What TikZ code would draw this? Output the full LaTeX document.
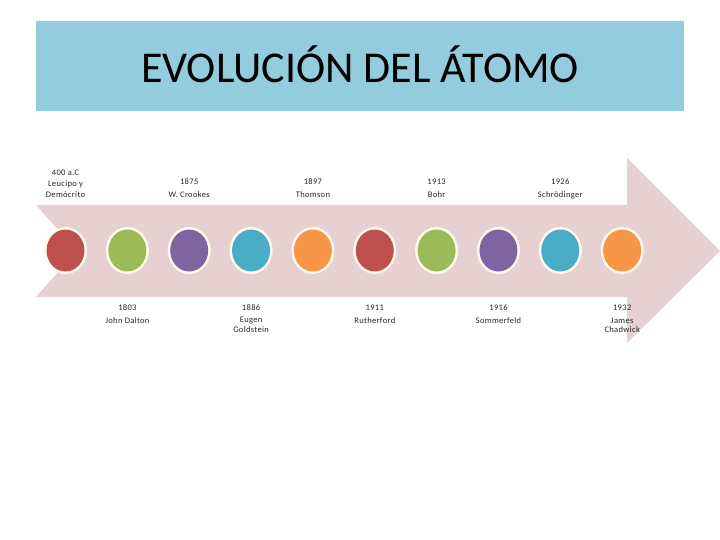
\documentclass[tikz,border=0pt]{standalone}
\usepackage{fontspec}
\setmainfont{Carlito}
\newfontfamily\smallfam[LetterSpace=4]{Carlito}
\definecolor{titlebg}{HTML}{93CDDD}
\definecolor{arrowc}{HTML}{E6D0D1}
\definecolor{ringc}{HTML}{FFFCEB}
\definecolor{cred}{HTML}{C0504D}
\definecolor{cgreen}{HTML}{9BBB59}
\definecolor{cpurple}{HTML}{8064A2}
\definecolor{cteal}{HTML}{4BACC6}
\definecolor{corange}{HTML}{F79646}
\begin{document}
\begin{tikzpicture}[x=1pt,y=-1pt,
  lbl/.style={inner sep=0pt,font=\smallfam\fontsize{8.5}{9}\selectfont,text=black!85},
  ring/.style={fill=ringc,draw=none},
  dot/.style={draw=none}]
\useasboundingbox (0,0) rectangle (720,540);
\fill[white] (0,0) rectangle (720,540);
% title
\fill[titlebg] (36,21) rectangle (684,111);
\node[inner sep=0pt,anchor=base,font=\fontsize{44}{48}\selectfont] (title) at (360,83) {EVOLUCIÓN DEL ÁTOMO};
% arrow
\fill[arrowc] (36,205) -- (627,205) -- (627,158) -- (720,251) -- (627,343) -- (627,297) -- (36,297) -- (77,251) -- cycle;
% circles
\foreach \i/\c in {0/cred,1/cgreen,2/cpurple,3/cteal,4/corange,5/cred,6/cgreen,7/cpurple,8/cteal,9/corange}{
  \pgfmathsetmacro{\cx}{65.5+61.85*\i}
  \fill[ring] (\cx,250.5) ellipse [x radius=21.5, y radius=23.5];
  \fill[\c] (\cx,250.5) ellipse [x radius=19, y radius=21];
  \coordinate (c\i) at (\cx,250.5);
}
% top labels
\node[lbl] (t0a) at (65.5,173) {400 a.C};
\node[lbl] (t0b) at (65.5,184) {Leucipo y};
\node[lbl] (t0c) at (65.5,194.5) {Demócrito};
\node[lbl] (t2a) at (189.2,182) {1875};
\node[lbl] (t2b) at (189.2,195) {W. Crookes};
\node[lbl] (t4a) at (312.9,182) {1897};
\node[lbl] (t4b) at (312.9,195) {Thomson};
\node[lbl] (t6a) at (436.6,182) {1913};
\node[lbl] (t6b) at (436.6,195) {Bohr};
\node[lbl] (t8a) at (560.3,182) {1926};
\node[lbl] (t8b) at (560.3,195) {Schrödinger};
% bottom labels
\node[lbl] (b1a) at (127.4,308) {1803};
\node[lbl] (b1b) at (127.4,320.5) {John Dalton};
\node[lbl] (b3a) at (251.1,308) {1886};
\node[lbl] (b3b) at (251.1,320.5) {Eugen};
\node[lbl] (b3c) at (251.1,330) {Goldstein};
\node[lbl] (b5a) at (374.8,308) {1911};
\node[lbl] (b5b) at (374.8,320.5) {Rutherford};
\node[lbl] (b7a) at (498.5,308) {1916};
\node[lbl] (b7b) at (498.5,320.5) {Sommerfeld};
\node[lbl] (b9a) at (622.2,308) {1932};
\node[lbl] (b9b) at (622.2,320.5) {James};
\node[lbl] (b9c) at (622.2,330) {Chadwick};
\end{tikzpicture}
\end{document}
